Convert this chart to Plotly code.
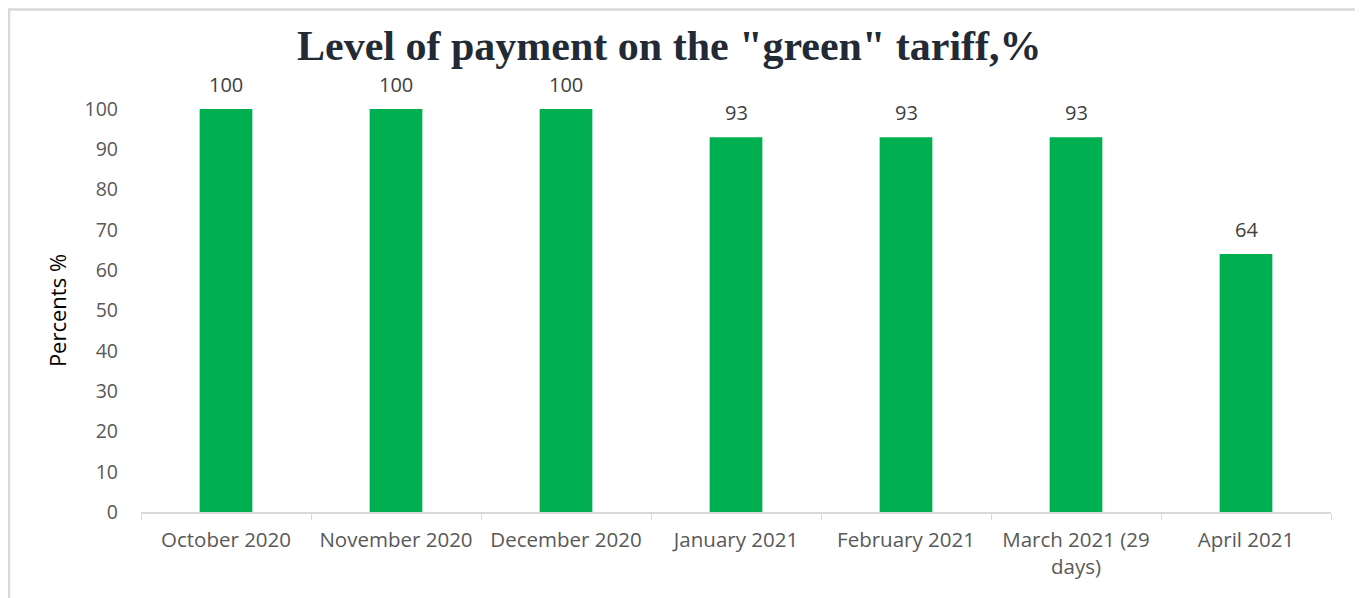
import plotly.graph_objects as go

categories = ["October 2020", "November 2020", "December 2020", "January 2021",
              "February 2021", "March 2021 (29<br>days)", "April 2021"]
values = [100, 100, 100, 93, 93, 93, 64]
y_ticks = [0, 10, 20, 30, 40, 50, 60, 70, 80, 90, 100]

# page offset of the figure inside the browser (body margin)
OFF = 8
W, H = 1363 - OFF, 598 - OFF
L, R, T, B = 141 - OFF, 1331 - OFF, 109 - OFF, 512 - OFF   # plot area in figure px
PW, PH = R - L, B - T


def px_x(x):
    return (x - OFF - L) / PW


def px_y(y):
    return (B - (y - OFF)) / PH


fig = go.Figure()
fig.add_trace(go.Bar(
    x=categories, y=values,
    marker=dict(color="#00b050", line=dict(width=0)),
    cliponaxis=False,
))

label_annotations = [dict(
    x=c, y=v, xref="x", yref="y", text=str(v), showarrow=False,
    yanchor="middle", yshift=25,
    font=dict(family="Open Sans, sans-serif", size=20, color="#404040"),
) for c, v in zip(categories, values)]

fig.update_layout(
    width=W, height=H,
    margin=dict(l=L, r=W - R, t=T, b=H - B),
    paper_bgcolor="white", plot_bgcolor="white",
    bargap=0.69,
    showlegend=False,
    xaxis=dict(
        showgrid=False, showline=True, linecolor="#d9d9d9", linewidth=1.5,
        ticks="outside", tickson="boundaries", ticklen=6, tickcolor="#d9d9d9",
        tickfont=dict(family="Open Sans, sans-serif", size=20.5, color="#595959"),
        tickangle=0, ticklabelstandoff=9,
    ),
    yaxis=dict(
        range=[0, 100], tickvals=y_ticks, showgrid=False, zeroline=False, showline=False,
        tickfont=dict(family="Open Sans, sans-serif", size=19.5, color="#595959"),
        ticklabelstandoff=22,
        title=dict(text="Percents %", font=dict(family="Open Sans, sans-serif", size=22, color="#000000"), standoff=11),
    ),
    annotations=label_annotations + [dict(
        text='<b>Level of payment on the "green" tariff,%</b>',
        xref="paper", yref="paper", x=px_x(669), y=px_y(46),
        xanchor="center", yanchor="middle", showarrow=False,
        font=dict(family="Liberation Serif, Times New Roman, serif", size=42, color="#222a35"),
    )],
    shapes=[dict(
        type="rect", xref="paper", yref="paper",
        x0=px_x(9), x1=(W - 2 - L) / PW,
        y0=px_y(640), y1=(B - 1.5) / PH,
        line=dict(color="#d9d9d9", width=2.5), fillcolor="rgba(0,0,0,0)", layer="below",
    )],
)

fig.write_html("out.html")
